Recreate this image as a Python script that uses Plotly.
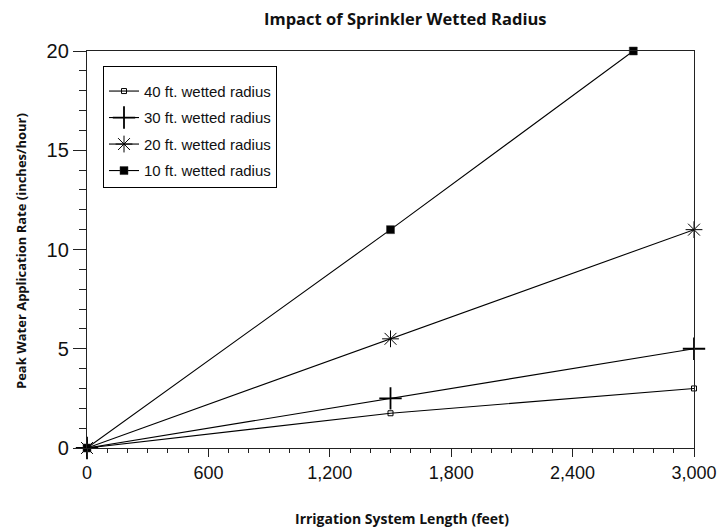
import plotly.graph_objects as go

x_40 = [0, 1500, 3000]
y_40 = [0, 1.75, 3]
x_30 = [0, 1500, 3000]
y_30 = [0, 2.5, 5]
x_20 = [0, 1500, 3000]
y_20 = [0, 5.5, 11]
x_10 = [0, 1500, 2700]
y_10 = [0, 11, 20]

names = ["40 ft. wetted radius", "30 ft. wetted radius",
         "20 ft. wetted radius", "10 ft. wetted radius"]
x_ticks = [0, 600, 1200, 1800, 2400, 3000]
y_ticks = [0, 5, 10, 15, 20]

series = [(x_40, y_40, dict(symbol="square-open", size=5, color="black", line=dict(width=1, color="black"))),
          (x_30, y_30, dict(symbol="cross-thin-open", size=16, color="black", line=dict(width=1.8, color="black"))),
          (x_20, y_20, dict(symbol="asterisk-open", size=14, color="black", line=dict(width=1, color="black"))),
          (x_10, y_10, dict(symbol="square", size=8, color="black", line=dict(width=0.5, color="#333")))]

fig = go.Figure()
for i, (xs, ys, mk) in enumerate(series):
    fig.add_trace(go.Scatter(x=xs, y=ys, mode="lines+markers", name=names[i],
                             line=dict(color="black", width=1.1), marker=mk,
                             cliponaxis=False, legendgroup=f"g{i}"))

# page body has an 8px margin: figure coords = screen coords - 8
fig.update_layout(
    width=727, height=529,
    margin=dict(l=79, r=41, t=43, b=89),
    paper_bgcolor="white", plot_bgcolor="white",
    showlegend=True,
    legend=dict(x=(103 - 87) / 607, y=1 - (66 - 51) / 397, xanchor="left", yanchor="top",
                bordercolor="black", borderwidth=1, bgcolor="white",
                title=dict(text=" ", font=dict(size=6)),
                font=dict(family="Liberation Sans", size=15, color="#111"),
                tracegroupgap=4, itemwidth=30),
    xaxis=dict(range=[0, 3000], tickvals=x_ticks, tickformat=",",
               showgrid=False, zeroline=False, showline=True, mirror=True,
               linecolor="#222", linewidth=1.3,
               ticks="outside", ticklen=8, tickcolor="#222",
               minor=dict(dtick=100, ticks="outside", ticklen=4, tickcolor="#222"),
               tickfont=dict(family="Liberation Sans", size=18, color="#111")),
    yaxis=dict(range=[0, 20], tickvals=y_ticks,
               showgrid=False, zeroline=False, showline=True, mirror=True,
               linecolor="#222", linewidth=1.3,
               ticks="outside", ticklen=13, tickcolor="#222",
               minor=dict(dtick=1, ticks="outside", ticklen=7, tickcolor="#222"),
               tickfont=dict(family="Liberation Sans", size=20, color="#111")),
    annotations=[
        dict(text="<b>Impact of Sprinkler Wetted Radius</b>", xref="paper", yref="paper",
             x=(405 - 87) / 607, y=1 + (51 - 18) / 397, xanchor="center", yanchor="middle",
             showarrow=False, font=dict(family="Open Sans", size=16.5, color="#111")),
        dict(text="<b>Irrigation System Length (feet)</b>", xref="paper", yref="paper",
             x=(402 - 87) / 607, y=-(518 - 448) / 397, xanchor="center", yanchor="middle",
             showarrow=False, font=dict(family="Open Sans", size=14, color="#111")),
        dict(text="<b>Peak Water Application Rate (inches/hour)</b>", xref="paper", yref="paper",
             x=-(87 - 21) / 607, y=(448 - 251) / 397, xanchor="center", yanchor="middle",
             textangle=-90, showarrow=False, font=dict(family="Open Sans", size=13, color="#111")),
    ],
)

fig.write_html("out.html")
